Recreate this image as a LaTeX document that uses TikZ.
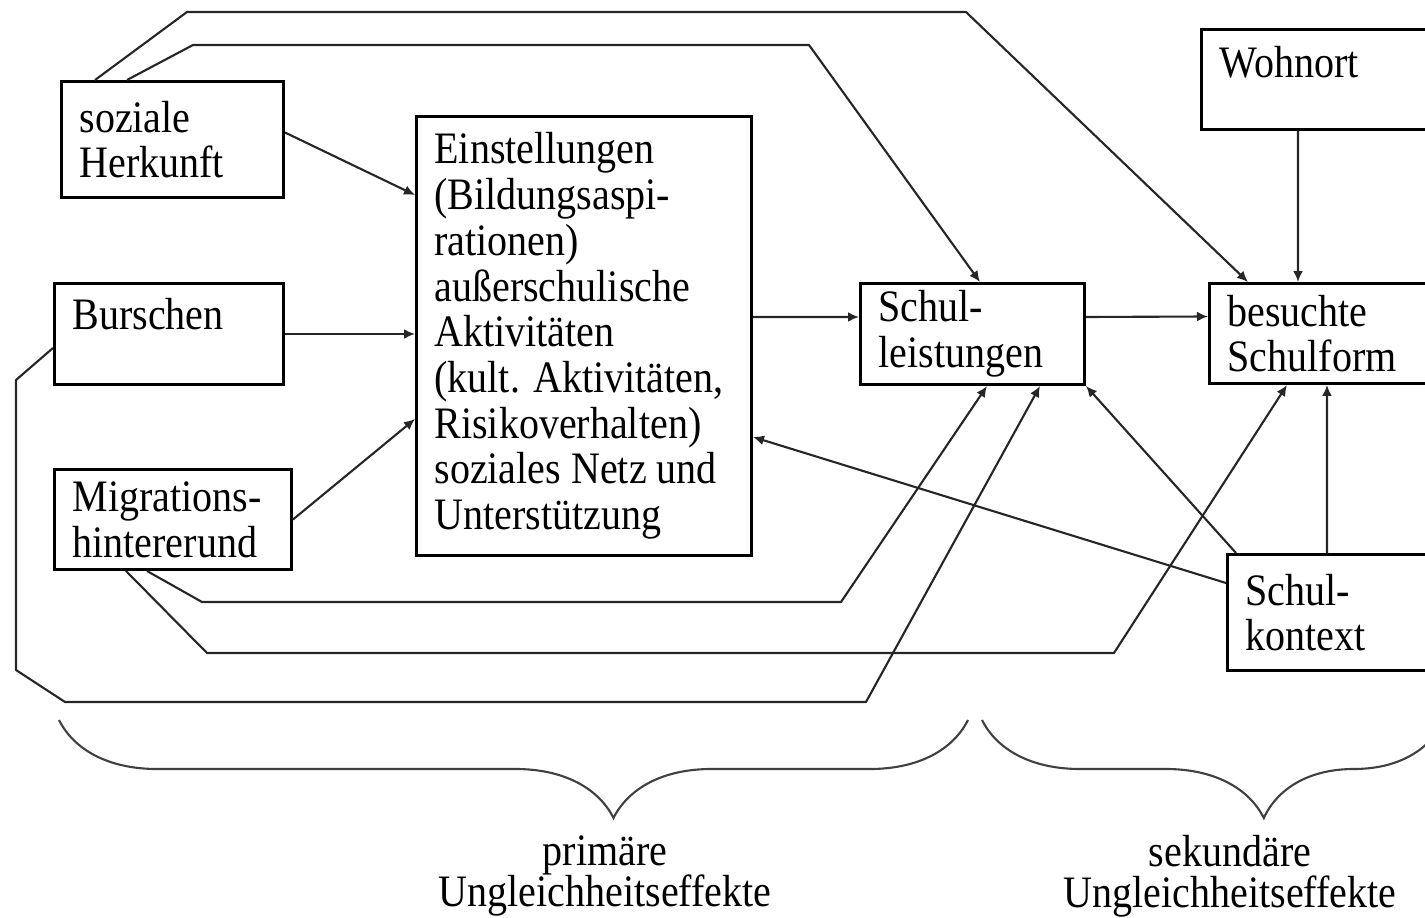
\documentclass[tikz,border=0pt]{standalone}
\usepackage{fontspec}
\setmainfont{Liberation Serif}[FakeStretch=0.89]
\usetikzlibrary{arrows.meta,decorations.pathreplacing}

\def\boxsep{0.18cm}

\begin{document}
\begin{tikzpicture}[font=\fontsize{12.8}{13}\selectfont]
        \tikzstyle{factor}=[rectangle,draw=black,line width=0.85pt,anchor=north west,inner xsep=\boxsep,inner ysep=0pt,align=flush left]
        \tikzstyle{link}=[draw=black!85,line width=0.6pt,-{Latex[length=1.1mm,width=1mm]}]
        \tikzstyle{path link}=[link,line join=round]
        \tikzstyle{brace}=[draw=black!75,line width=0.6pt,decorate,decoration={brace,mirror,amplitude=0.98cm,aspect=0.61}]
        \tikzstyle{effect}=[align=center,font=\fontsize{12.8}{11.8}\selectfont]

        \clip (0,0) rectangle (14.25,-9.18);

        % Draw the background factors
        \node[factor, text width=1.86cm, minimum height=1.16cm] (herk) at (0.60,-0.80) {soziale\\Herkunft};
        \node[factor, text width=1.93cm, minimum height=1.01cm, text depth=0.4cm] (bursch) at (0.53,-2.82) {Burschen};
        \node[factor, text width=2.01cm, minimum height=1.00cm] (migr) at (0.53,-4.68) {Migrations-\\hintererund};

        % Draw the mediating box
        \node[factor, text width=2.99cm, minimum height=4.39cm] (eins) at (4.15,-1.15)
            {Einstellungen\\(Bildungsaspi-\\rationen)\\außerschulische\\Aktivitäten\\(kult. Aktivitäten,\\Risikoverhalten)\\soziales Netz und\\Unterstützung};

        % Draw the school nodes
        \node[factor, text width=1.88cm, minimum height=1.01cm] (leist) at (8.59,-2.82) {Schul-\\leistungen};
        \node[factor, text width=2.20cm, minimum height=1.00cm, text depth=0.36cm] (wohn) at (12.00,-0.28) {Wohnort};
        \node[factor, text width=2.14cm, minimum height=1.00cm] (form) at (12.08,-2.82) {besuchte\\Schulform};
        \node[factor, text width=1.94cm, minimum height=1.16cm] (kont) at (12.26,-5.53) {Schul-\\kontext};

        % Direct arrows into the mediating box
        \draw[link] ([yshift=0.07cm]herk.east) -- ([yshift=-0.80cm]eins.north west);
        \draw[link] (bursch.east) -- (bursch.east -| eins.west);
        \draw[link] (migr.east) -- ([yshift=-3.04cm]eins.north west);

        % Arrows along the main chain
        \draw[link] ([yshift=0.19cm]eins.east) -- ([yshift=0.17cm]leist.west);
        \draw[link] ([yshift=0.17cm]leist.east) -- ([yshift=0.17cm]form.west);
        \draw[link] ([xshift=0.98cm]wohn.south west) -- ([xshift=0.90cm]form.north west);

        % Arrows from the school context
        \draw[link] ([xshift=1.01cm]kont.north west) -- ([xshift=1.19cm]form.south west);
        \draw[link] ([yshift=-0.30cm]kont.north west) -- ([yshift=-3.22cm]eins.north east);
        \draw[link] ([xshift=0.10cm]kont.north west) -- (leist.south east);

        % Long paths from the background factors
        \draw[path link] ([xshift=0.35cm]herk.north west) -- (1.87,-0.12) -- (9.66,-0.12) -- ([xshift=0.40cm]form.north west);
        \draw[path link] ([xshift=0.67cm]herk.north west) -- (1.93,-0.45) -- (8.09,-0.45) -- ([xshift=1.21cm]leist.north west);
        \draw[path link] ([xshift=0.94cm]migr.south west) -- (2.02,-6.02) -- (8.41,-6.02) -- ([xshift=1.28cm]leist.south west);
        \draw[path link] ([xshift=0.73cm]migr.south west) -- (2.07,-6.53) -- (11.14,-6.53) -- ([xshift=0.79cm]form.south west);
        \draw[path link] ([yshift=-0.66cm]bursch.north west) -- (0.16,-3.80) -- (0.16,-6.70) -- (0.65,-7.02) -- (8.66,-7.02) -- ([xshift=1.81cm]leist.south west);

        % Annotate the two kinds of effects
        \draw[brace] (0.59,-7.20) -- (9.68,-7.20);
        \draw[brace] (9.82,-7.20) -- (14.44,-7.20);
        \node[effect] (prim) at (6.05,-8.76) {primäre\\Ungleichheitseffekte};
        \node[effect] (sek) at (12.30,-8.76) {sekundäre\\Ungleichheitseffekte};
    \end{tikzpicture}
\end{document}
